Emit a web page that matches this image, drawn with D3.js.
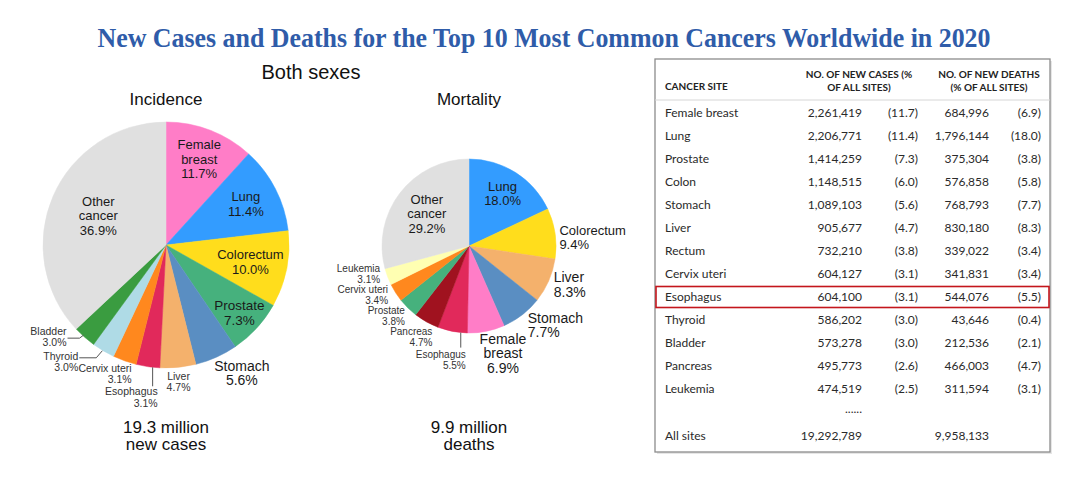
<!DOCTYPE html>
<html lang='en'>
<head>
<meta charset='utf-8'>
<title>Top 10 cancers 2020</title>
<script src="https://d3js.org/d3.v7.min.js"></script>
<style>
  body { margin: 0; background: #fff; }
  svg text { font-family: "Liberation Sans", Arial, sans-serif; }
</style>
</head>
<body>
<script>
// Pie data (percent of all sites), clockwise from 12 o'clock
var incidenceSites = ["Female breast", "Lung", "Colorectum", "Prostate", "Stomach", "Liver",
                      "Esophagus", "Cervix uteri", "Thyroid", "Bladder", "Other cancer"];
var incidencePct = [11.7, 11.4, 10.0, 7.3, 5.6, 4.7, 3.1, 3.1, 3.0, 3.0, 36.9];

var mortalitySites = ["Lung", "Colorectum", "Liver", "Stomach", "Female breast", "Esophagus",
                      "Pancreas", "Prostate", "Cervix uteri", "Leukemia", "Other cancer"];
var mortalityPct = [18.0, 9.4, 8.3, 7.7, 6.9, 5.5, 4.7, 3.8, 3.4, 3.1, 29.2];

// Table data
var tableSites = ["Female breast", "Lung", "Prostate", "Colon", "Stomach", "Liver", "Rectum",
                  "Cervix uteri", "Esophagus", "Thyroid", "Bladder", "Pancreas", "Leukemia"];
var newCases = [2261419, 2206771, 1414259, 1148515, 1089103, 905677, 732210,
                604127, 604100, 586202, 573278, 495773, 474519];
var casesPct = [11.7, 11.4, 7.3, 6.0, 5.6, 4.7, 3.8, 3.1, 3.1, 3.0, 3.0, 2.6, 2.5];
var newDeaths = [684996, 1796144, 375304, 576858, 768793, 830180, 339022,
                 341831, 544076, 43646, 212536, 466003, 311594];
var deathsPct = [6.9, 18.0, 3.8, 5.8, 7.7, 8.3, 3.4, 3.4, 5.5, 0.4, 2.1, 4.7, 3.1];
var totalCases = 19292789;
var totalDeaths = 9958133;
var highlightSite = "Esophagus";

var siteColor = {
  "Female breast": "#ff7dc7", "Lung": "#339cff", "Colorectum": "#ffdd1c",
  "Prostate": "#46b17d", "Stomach": "#5a8ec2", "Liver": "#f4b16c",
  "Esophagus": "#e1295b", "Cervix uteri": "#ff881e", "Thyroid": "#afdbe6",
  "Bladder": "#3a9c40", "Pancreas": "#a0121f", "Leukemia": "#ffffb2",
  "Other cancer": "#e0e0e0"
};

var w = 1080, h = 480;
var svg = d3.select("body").append("svg").attr("width", w).attr("height", h);

// Title
svg.append("text")
  .attr("x", 544).attr("y", 47)
  .attr("text-anchor", "middle")
  .attr("textLength", 893).attr("lengthAdjust", "spacingAndGlyphs")
  .style("font-family", "'Liberation Serif', 'Times New Roman', serif")
  .style("font-weight", "bold").style("font-size", "27px")
  .attr("fill", "#2f5ca9")
  .text("New Cases and Deaths for the Top 10 Most Common Cancers Worldwide in 2020");

svg.append("text").attr("x", 311).attr("y", 79).attr("text-anchor", "middle")
  .style("font-size", "20px").attr("fill", "#111").text("Both sexes");

// label layout: k = radius factor, dx/dy offset, anchor, size, line height, leader
var incidenceLabels = {
  "Female breast": { k: 0.75, size: 13, lh: 14.5 },
  "Lung":          { k: 0.73, size: 13, lh: 14.5 },
  "Colorectum":    { k: 0.70, size: 13, lh: 14.5 },
  "Prostate":      { k: 0.81, size: 13.5, lh: 15 },
  "Stomach":       { k: 1.05, dx: 23, dy: 10, size: 14, lh: 14.5 },
  "Liver":         { k: 1.05, dy: 8, size: 10.5, lh: 11.5 },
  "Esophagus":     { k: 1, at: 0.3, dx: 5, dy: 30, anchor: "end", size: 10.5, lh: 11.5, leader: [[0, 0], [0, 19]] },
  "Cervix uteri":  { k: 1, dx: 7, dy: 13, anchor: "end", size: 10.5, lh: 11 },
  "Thyroid":       { k: 1, dx: -25, dy: 11, anchor: "end", size: 10.5, lh: 11, leader: [[-1, 0], [-7, 7], [-24, 7]] },
  "Bladder":       { k: 1, dx: -18, dy: 0, anchor: "end", size: 10.5, lh: 11, leader: [[-1, -2], [-5, 1], [-17, 1]] },
  "Other cancer":  { k: 0.60, size: 13, lh: 14.5 }
};
var mortalityLabels = {
  "Lung":          { k: 0.72, size: 13, lh: 14 },
  "Colorectum":    { k: 1.05, dy: 4.5, anchor: "start", size: 13, lh: 13.5 },
  "Liver":         { k: 1.05, dx: 1, dy: 2, anchor: "start", size: 14, lh: 15 },
  "Stomach":       { k: 1.05, dx: 3, dy: 7, anchor: "start", size: 14, lh: 14 },
  "Female breast": { k: 1.05, dx: 16, dy: 17.5, size: 14, lh: 14.5 },
  "Esophagus":     { k: 1, at: 0.22, dx: 5, dy: 27, anchor: "end", size: 10, lh: 11, leader: [[0, 0], [0, 15]] },
  "Pancreas":      { k: 1, dx: 6, dy: 15, anchor: "end", size: 10, lh: 10.5 },
  "Prostate":      { k: 1, dx: -3, dy: 8, anchor: "end", size: 10, lh: 10.5 },
  "Cervix uteri":  { k: 1, dx: -7.5, dy: 2.5, anchor: "end", size: 10, lh: 10.5 },
  "Leukemia":      { k: 1, dx: -7.5, dy: -3, anchor: "end", size: 10, lh: 10.5 },
  "Other cancer":  { k: 0.61, size: 13, lh: 14.5 }
};

function splitName(name) {
  if (name === "Female breast") return ["Female", "breast"];
  if (name === "Other cancer") return ["Other", "cancer"];
  return [name];
}

function drawPie(sites, values, cx, cy, r, layout, heading, caption) {
  var g = svg.append("g").attr("transform", "translate(" + cx + "," + cy + ")");
  var data = sites.map(function(s, i) { return { site: s, value: values[i] }; });
  var pie = d3.pie().sort(null).value(function(d) { return d.value; });
  var arc = d3.arc().innerRadius(0).outerRadius(r);
  var arcs = pie(data);

  g.selectAll("path.slice").data(arcs).enter().append("path")
    .attr("class", "slice")
    .attr("d", arc)
    .attr("fill", function(d) { return siteColor[d.data.site]; })
    .attr("stroke", function(d) { return siteColor[d.data.site]; })
    .attr("stroke-width", 0.5);

  arcs.forEach(function(a) {
    var L = layout[a.data.site];
    var t = L.at === undefined ? 0.5 : L.at;
    var ang = a.startAngle + (a.endAngle - a.startAngle) * t;
    var rr = r * L.k;
    var px = Math.sin(ang) * rr, py = -Math.cos(ang) * rr;
    if (L.leader) {
      g.append("path")
        .attr("d", d3.line()(L.leader.map(function(p) { return [px + p[0], py + p[1]]; })))
        .attr("fill", "none").attr("stroke", "#555").attr("stroke-width", 1);
    }
    var lines = splitName(a.data.site).concat([a.data.value.toFixed(1) + "%"]);
    var x = px + (L.dx || 0);
    var y0 = py + (L.dy || 0) - (lines.length - 1) * L.lh / 2;
    var txt = g.append("text")
      .attr("text-anchor", L.anchor || "middle")
      .style("font-size", L.size + "px")
      .attr("fill", L.size < 12 ? "#333" : "#1a1a1a");
    lines.forEach(function(line, i) {
      txt.append("tspan").attr("x", x).attr("y", y0 + i * L.lh)
        .attr("dy", "0.36em").text(line);
    });
  });

  svg.append("text").attr("x", cx).attr("y", 105).attr("text-anchor", "middle")
    .style("font-size", "17px").attr("fill", "#111").text(heading);
  var cap = svg.append("text").attr("text-anchor", "middle")
    .style("font-size", "17px").attr("fill", "#111");
  caption.forEach(function(line, i) {
    cap.append("tspan").attr("x", cx).attr("y", 433 + i * 17).text(line);
  });
}

drawPie(incidenceSites, incidencePct, 166, 245, 123, incidenceLabels, "Incidence", ["19.3 million", "new cases"]);
drawPie(mortalitySites, mortalityPct, 469, 246, 87, mortalityLabels, "Mortality", ["9.9 million", "deaths"]);

// Table
var tbl = svg.append("g");
var box = { x0: 655, x1: 1050, y0: 59, y1: 452 };
tbl.append("rect").attr("x", box.x0 + 2).attr("y", box.y0 + 2)
  .attr("width", box.x1 - box.x0).attr("height", box.y1 - box.y0)
  .attr("fill", "#e6e6e6");
tbl.append("rect").attr("x", box.x0).attr("y", box.y0)
  .attr("width", box.x1 - box.x0).attr("height", box.y1 - box.y0)
  .attr("fill", "#fff").attr("stroke", "#8c8c8c").attr("stroke-width", 1.3);

var tableFont = "Lato, 'Open Sans', sans-serif";
var cols = { site: 665, cases: 862, cpct: 918, deaths: 989, dpct: 1041 };
var rowY = d3.scaleLinear().domain([0, 1]).range([113, 136]);
var fmt = d3.format(",");

function hdr(x, y, s, anchor) {
  tbl.append("text").attr("x", x).attr("y", y).attr("text-anchor", anchor)
    .style("font-family", tableFont).style("font-weight", "bold").style("font-size", "10px")
    .attr("fill", "#222").attr("dy", "0.36em").text(s);
}
hdr(cols.site, 86, "CANCER SITE", "start");
hdr(859, 74, "NO. OF NEW CASES (%", "middle");
hdr(859, 87, "OF ALL SITES)", "middle");
hdr(989, 74, "NO. OF NEW DEATHS", "middle");
hdr(989, 87, "(% OF ALL SITES)", "middle");
tbl.append("line").attr("x1", box.x0).attr("x2", box.x1).attr("y1", 100).attr("y2", 100)
  .attr("stroke", "#d6d6d6").attr("stroke-width", 1);

function cell(x, y, s, anchor) {
  tbl.append("text").attr("x", x).attr("y", y).attr("text-anchor", anchor)
    .style("font-family", tableFont).style("font-size", "12px")
    .attr("fill", "#2a2a2a").attr("dy", "0.36em").text(s);
}
tableSites.forEach(function(s, i) {
  var y = rowY(i);
  cell(cols.site, y, s, "start");
  cell(cols.cases, y, fmt(newCases[i]), "end");
  cell(cols.cpct, y, "(" + casesPct[i].toFixed(1) + ")", "end");
  cell(cols.deaths, y, fmt(newDeaths[i]), "end");
  cell(cols.dpct, y, "(" + deathsPct[i].toFixed(1) + ")", "end");
  if (s === highlightSite) {
    tbl.append("rect").attr("x", box.x0 + 1).attr("y", y - 10.5)
      .attr("width", box.x1 - box.x0 - 2).attr("height", 21)
      .attr("fill", "none").attr("stroke", "#c4161c").attr("stroke-width", 1.6);
  }
});
cell(cols.cases, rowY(tableSites.length) - 3, "......", "end");
cell(cols.site, 436, "All sites", "start");
cell(cols.cases, 436, fmt(totalCases), "end");
cell(cols.deaths, 436, fmt(totalDeaths), "end");
</script>
</body>
</html>
